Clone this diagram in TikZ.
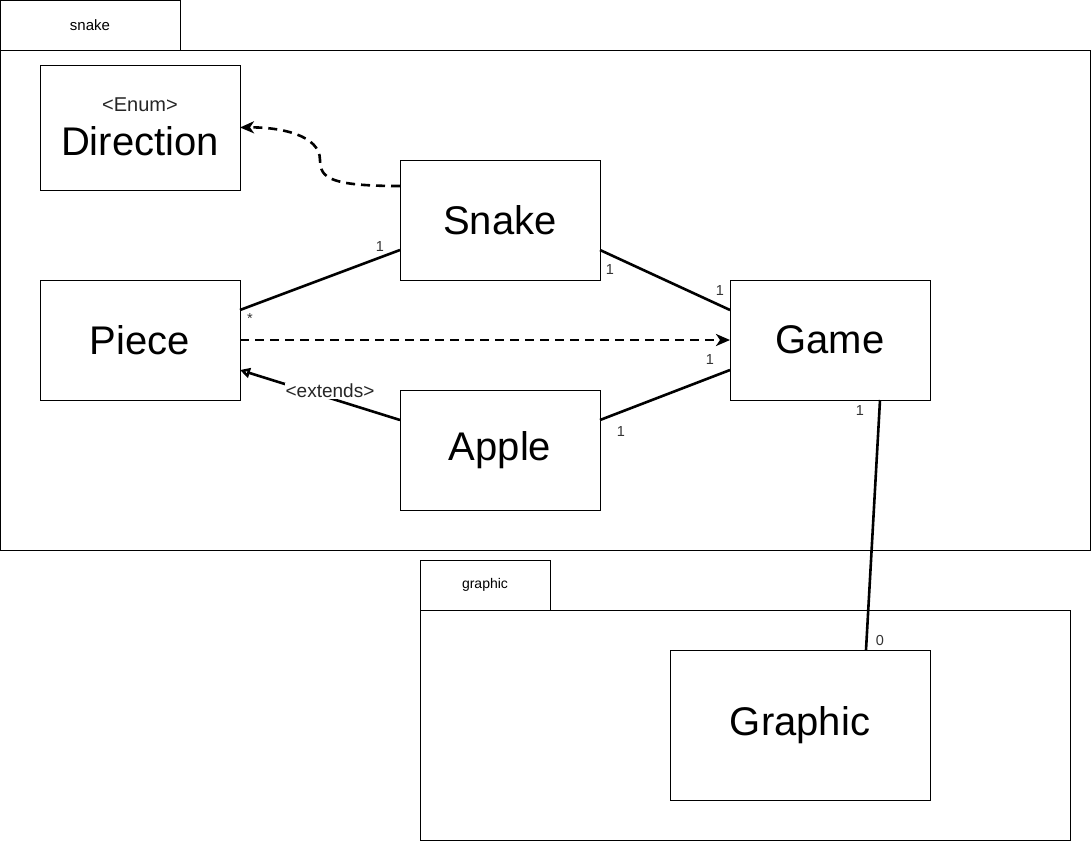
\documentclass[tikz,border=0pt]{standalone}
\usepackage{fontspec}
\setmainfont{Liberation Sans}
\usetikzlibrary{arrows.meta}
\tikzset{
  pkgbox/.style={draw, line width=1pt, inner sep=0pt, outer sep=0pt, anchor=north west},
  classbox/.style={draw, line width=1pt, inner sep=0pt, outer sep=0pt, align=center, font=\fontsize{40}{46}\selectfont},
  conn/.style={line width=2.6pt},
  dep/.style={line width=2.6pt, dash pattern=on 9pt off 6pt, -{Stealth[length=14pt,width=12pt,inset=4pt]}},
  mult/.style={inner sep=0pt, font=\fontsize{14.5}{16}\selectfont, text=black!80},
}
\begin{document}
\begin{tikzpicture}[x=1pt,y=-1pt]
\useasboundingbox (0,0) rectangle (1091,841);
% packages
\node[pkgbox, minimum width=180pt, minimum height=50pt] (snaketab) at (0,0) {};
\node[font=\fontsize{15}{17}\selectfont] (snakelbl) at (90,25) {snake};
\node[pkgbox, minimum width=1090pt, minimum height=500pt] (snakepkg) at (0,50) {};
\node[pkgbox, minimum width=130pt, minimum height=50pt] (graphtab) at (420,560) {};
\node[font=\fontsize{14}{16}\selectfont] (graphlbl) at (485,585) {graphic};
\node[pkgbox, minimum width=650pt, minimum height=230pt] (graphpkg) at (420,610) {};
% classes
\node[classbox, minimum width=200pt, minimum height=125pt] (direction) at (140,127.5) {};
\node[font=\fontsize{20}{22}\selectfont, text=black!85] (enumlbl) at (140,105) {<Enum>};
\node[font=\fontsize{40}{46}\selectfont] (dirlbl) at (140,141) {Direction};
\node[classbox, minimum width=200pt, minimum height=120pt] (snake) at (500,220) {Snake};
\node[classbox, minimum width=200pt, minimum height=120pt] (piece) at (140,340) {Piece};
\node[classbox, minimum width=200pt, minimum height=120pt] (game) at (830,340) {Game};
\node[classbox, minimum width=200pt, minimum height=120pt] (apple) at (500,450) {Apple};
\node[classbox, minimum width=260pt, minimum height=150pt] (graphic) at (800,725) {Graphic};
% connectors
\draw[dep] ([yshift=34pt]snake.west) .. controls (330,186) and (320,178) .. (320,160)
  .. controls (320,135) and (280,127) .. (direction.east);
\draw[conn] ([yshift=30pt]piece.east) -- ([yshift=-30pt]snake.west);
\draw[conn] ([yshift=-30pt]snake.east) -- ([yshift=30pt]game.west);
\draw[dep] (piece.east) -- (game.west);
\draw[conn, -{Triangle[open,length=10pt,width=10pt]}] ([yshift=30pt]apple.west) -- ([yshift=-30pt]piece.east);
\node[fill=white, inner sep=1pt, font=\fontsize{19}{21}\selectfont, text=black!85] (extlbl) at (330,391) {<extends>};
\draw[conn] ([yshift=30pt]apple.east) -- ([yshift=-30pt]game.west);
\draw[conn] ([xshift=50pt]game.south) -- ([xshift=66pt]graphic.north);
% multiplicities
\node[mult] (m1) at (380,247) {1};
\node[mult] (m2) at (250,319) {*};
\node[mult] (m3) at (610,270) {1};
\node[mult] (m4) at (720,291) {1};
\node[mult] (m5) at (710,360) {1};
\node[mult] (m6) at (621,432) {1};
\node[mult] (m7) at (860,411) {1};
\node[mult] (m8) at (880,640) {0};
\end{tikzpicture}
\end{document}
